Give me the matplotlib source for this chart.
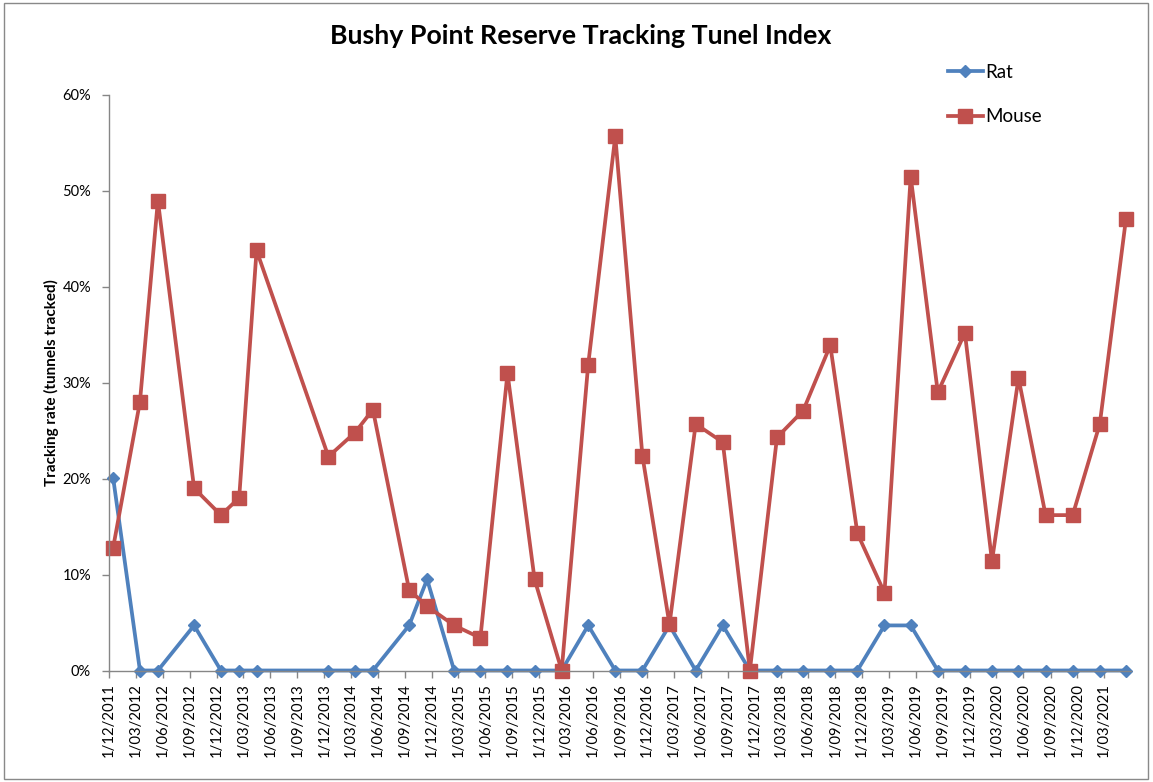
import pandas as pd
import matplotlib
matplotlib.use("Agg")
import matplotlib.pyplot as plt
import matplotlib.dates as mdates
from matplotlib.ticker import FuncFormatter, PercentFormatter
from matplotlib.patches import Rectangle

plt.rcParams["font.family"] = ["Lato", "DejaVu Sans"]

# survey dates (mid-month)
survey_dates = [
    "2011-12-15", "2012-03-15", "2012-05-15", "2012-09-15", "2012-12-15",
    "2013-02-15", "2013-04-15", "2013-12-15", "2014-03-15", "2014-05-15",
    "2014-09-15", "2014-11-15", "2015-02-15", "2015-05-15", "2015-08-15",
    "2015-11-15", "2016-02-15", "2016-05-15", "2016-08-15", "2016-11-15",
    "2017-02-15", "2017-05-15", "2017-08-15", "2017-11-15", "2018-02-15",
    "2018-05-15", "2018-08-15", "2018-11-15", "2019-02-15", "2019-05-15",
    "2019-08-15", "2019-11-15", "2020-02-15", "2020-05-15", "2020-08-15",
    "2020-11-15", "2021-02-15", "2021-05-15",
]

# tracking rates in %
rat = [20.1, 0, 0, 4.7, 0, 0, 0, 0, 0, 0,
       4.7, 9.5, 0, 0, 0, 0, 0, 4.7, 0, 0,
       4.7, 0, 4.7, 0, 0, 0, 0, 0, 4.7, 4.7,
       0, 0, 0, 0, 0, 0, 0, 0]
mouse = [12.8, 28.0, 49.0, 19.0, 16.2, 18.0, 43.8, 22.3, 24.8, 27.2,
         8.4, 6.7, 4.7, 3.4, 31.0, 9.5, 0, 31.9, 55.7, 22.4,
         4.8, 25.7, 23.8, 0, 24.3, 27.1, 33.9, 14.3, 8.1, 51.5,
         29.0, 35.2, 11.4, 30.5, 16.2, 16.2, 25.7, 47.1]

tick_start = "2011-12-01"
tick_end = "2021-03-01"
axis_start = "2011-12-01"
axis_end = "2021-06-01"

dates = pd.to_datetime(survey_dates)
tick_dates = pd.date_range(tick_start, tick_end, freq="3MS")

BLUE = "#4F81BD"
RED = "#C0504D"
GREY = "#868686"

fig = plt.figure(figsize=(11.53, 7.82), dpi=100)
ax = fig.add_axes([109/1153, 1-670.5/782, (1131-109)/1153, (670.5-95)/782])

ax.plot(dates, rat, color=BLUE, lw=2.7, marker="D", ms=6.5, label="Rat", clip_on=False)
ax.plot(dates, mouse, color=RED, lw=2.7, marker="s", ms=9.5, label="Mouse", clip_on=False)

ax.set_xlim(pd.Timestamp(axis_start), pd.Timestamp(axis_end))
ax.set_ylim(0, 60)
ax.set_yticks(range(0, 61, 10))
ax.yaxis.set_major_formatter(PercentFormatter(decimals=0))

ax.set_xticks(tick_dates)
ax.xaxis.set_major_formatter(FuncFormatter(
    lambda v, p: (lambda d: f"{d.day}/{d.month:02d}/{d.year}")(mdates.num2date(v))))
plt.setp(ax.get_xticklabels(), rotation=90, fontsize=10.7)
plt.setp(ax.get_yticklabels(), fontsize=10.5)

for s in ["top", "right"]:
    ax.spines[s].set_visible(False)
for s in ["left", "bottom"]:
    ax.spines[s].set_color(GREY)
    ax.spines[s].set_linewidth(1)
ax.tick_params(axis="both", direction="out", length=5, color=GREY, width=1, pad=4)
ax.tick_params(axis="y", pad=8)

ax.set_ylabel("Tracking rate (tunnels tracked)", fontsize=11, fontweight="bold", labelpad=2)

fig.text(0.504, 0.954, "Bushy Point Reserve Tracking Tunel Index",
         ha="center", va="center", fontsize=19.3, fontweight="bold")

fig.legend(loc="upper left", bbox_to_anchor=(948/1153, 1-64/782), frameon=False,
           fontsize=13.5, handlelength=1.85, handletextpad=0.15, labelspacing=1.45,
           borderpad=0, borderaxespad=0)

fig.patches.append(Rectangle((4/1153, 3/782), 1144/1153, 776/782, transform=fig.transFigure,
                             fill=False, edgecolor="#898989", lw=1))

fig.savefig("out.png", dpi=100)
